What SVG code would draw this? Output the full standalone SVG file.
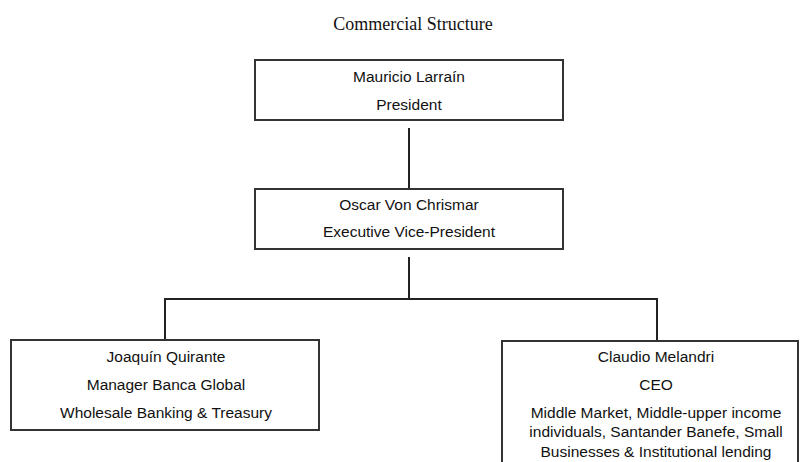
<svg xmlns="http://www.w3.org/2000/svg" width="800" height="462" viewBox="0 0 800 462">
  <style>
    .box { fill: #ffffff; stroke: #333333; stroke-width: 2; }
    .t { font-family: "Liberation Sans", Arial, sans-serif; font-size: 15.5px; fill: #111111; text-anchor: middle; }
    .title { font-family: "Liberation Serif", "Times New Roman", serif; font-size: 18px; fill: #111111; text-anchor: middle; }
    .conn { stroke: #222222; stroke-width: 2; fill: none; }
  </style>
  <rect x="0" y="0" width="800" height="462" fill="#ffffff"/>
  <text class="title" x="413" y="30">Commercial Structure</text>
  <g id="connectors">
    <line class="conn" x1="409" y1="128" x2="409" y2="189"/>
    <line class="conn" x1="409" y1="257" x2="409" y2="299"/>
    <line class="conn" x1="164" y1="299" x2="658" y2="299"/>
    <line class="conn" x1="165" y1="299" x2="165" y2="340"/>
    <line class="conn" x1="657" y1="299" x2="657" y2="341"/>
  </g>
  <g id="president">
    <rect class="box" x="255" y="60" width="308" height="60"/>
    <text class="t" x="409" y="82">Mauricio Larraín</text>
    <text class="t" x="409" y="110">President</text>
  </g>
  <g id="evp">
    <rect class="box" x="255" y="189" width="308" height="60"/>
    <text class="t" x="409" y="210">Oscar Von Chrismar</text>
    <text class="t" x="409" y="237">Executive Vice-President</text>
  </g>
  <g id="quirante">
    <rect class="box" x="11" y="340" width="308" height="90"/>
    <text class="t" x="166" y="362">Joaquín Quirante</text>
    <text class="t" x="166" y="390">Manager Banca Global</text>
    <text class="t" x="166" y="418">Wholesale Banking &amp; Treasury</text>
  </g>
  <g id="melandri">
    <rect class="box" x="502" y="341" width="296" height="140"/>
    <text class="t" x="656" y="362">Claudio Melandri</text>
    <text class="t" x="656" y="390">CEO</text>
    <text class="t" x="656" y="418">Middle Market, Middle-upper income</text>
    <text class="t" x="656" y="437">individuals, Santander Banefe, Small</text>
    <text class="t" x="656" y="457">Businesses &amp; Institutional lending</text>
  </g>
</svg>
